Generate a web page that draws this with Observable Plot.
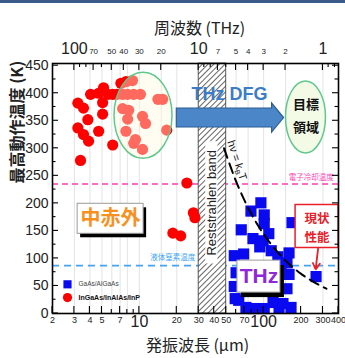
<!DOCTYPE html>
<html><head><meta charset="utf-8">
<script src="https://cdn.jsdelivr.net/npm/d3@7"></script>
<script src="https://cdn.jsdelivr.net/npm/@observablehq/plot@0.6"></script>
<style>
body{margin:0;background:#fff;}
#topbar{position:absolute;left:0;top:0;width:345px;height:3px;background:#3a5a8a;}
#chart{position:absolute;left:0;top:0;}
</style>
</head><body>
<div id="chart"></div><div id="topbar"></div>
<script>
const CJK = "'Noto Sans CJK JP', sans-serif";
const SANS = "'Liberation Sans', Arial, sans-serif";

// ---- data: InGaAs/InAlAs/InP (red circles): wavelength (µm), max temperature (K)
const redLam = [3.2,3.55,3.85,3.2,3.55,3.9,3.36,4.7,4.05,4.7,5.15,5.06,5.06,5.6,6.1,6.6,6.1,
  7.1,7.8,8.8,7.34,8.05,9.0,10.2,7.34,8.2,8.05,10.6,11.2,7.8,9.3,9.0,10.6,14.1,15.4,16.6,
  24.1,27.2,28.0,18.6,21.5];
const redT = [382,373,352,337,325,313,278,331,398,400,410,383,362,398,398,398,306,
  418,421,423,398,398,398,398,372,369,353,358,345,331,316,309,298,389,389,333,
  237,183,174,146,141];
// ---- data: GaAs/AlGaAs (blue squares)
const blueLam = [95,79,101,101,66,169,110,82,99,93,69,58,115,160,130,154,138,60,160,58,154,
  63,72,83,101,133,166,119,143,264,59,79,104];
const blueT = [201,186,179,163,152,165,145,136,132,121,108,105,114,110,103,92,89,74,71,49,45,
  24,11,9,9,11,11,20,18,67,27,78,69];
// ---- hν = kBT line
const kTLam = [48,60,80,100,130,160,200,250,320];
const kTT = [300,240,180,144,111,90,72,58,45];
// ---- reference temperatures
const coolingT = [235];   // 電子冷却温度
const nitrogenT = [87];   // 液体窒素温度
const reststrahlenBand = [[30, 50]];
// ---- axes
const yTickValues = [0,50,100,150,200,250,300,350,400,450];
const yMinorTicks = d3.range(0, 451, 25);
const bottomSmallValues = [2,3,4,5,7,20,30,40,50,70,200,300,400];
const bottomSmallText = ["2","3","4","5","7","20","30","40","50","70","200","300","400"];
const bottomBigValues = [10,100];
const bottomBigText = ["10","100"];
const bottomMinor = [2,3,4,5,6,7,8,9,10,20,30,40,50,60,70,80,90,100,200,300,400];
const topSmallFreq = [70,50,40,30,20,7,5,4,3,2];
const topSmallText = ["70","50","40","30","20","7","5","4","3","2"];
const topBigFreq = [100,10,1];
const topBigText = ["100","10","1"];
const topMinorFreq = [100,90,80,70,60,50,40,30,20,10,9,8,7,6,5,4,3,2,1,0.9,0.8];
const gridLam = [3,4,5,6,7,8,10,15,20,60,75,100,150,300];
const C_UM_THZ = 299.8;

// annotation helper: custom render using Plot's own scales
const ann = (fn) => (index, scales, values, dim) => {
  const g = d3.create("svg:g");
  fn(g, scales.x, scales.y, dim);
  return g.node();
};

const focusEllipse = {lam: 10.8, T: 359, rx: 29, ry: 43};
const targetEllipse = {lam: 219, T: 356, rx: 20, ry: 36};
const dfgArrow = {from: 20, to: 146, T: 355};
const boxes = [
  {lam: 5.87, T: 172, w: 66, h: 30, sx: 3, sy: 4, stroke: "#9a9a9a", sw: 1},
  {lam: 91.6, T: 67, w: 43, h: 32, sx: 4, sy: 5, stroke: "#9a9a9a", sw: 1},
  {lam: 269, T: 158, w: 43, h: 43, sx: 0, sy: 0, stroke: "#e8202a", sw: 1.5}
];

const chart = Plot.plot({
  width: 345, height: 358,
  marginTop: 63, marginBottom: 45, marginLeft: 52, marginRight: 7,
  x: {type: "log", domain: [2, 400], axis: null},
  y: {domain: [0, 454], axis: null},
  style: {fontFamily: SANS, background: "white", overflow: "visible"},
  marks: [
    Plot.ruleX(gridLam, {stroke: "#dcdcdc", strokeWidth: 0.8}),
    Plot.ruleY(coolingT, {stroke: "#ff3fb4", strokeWidth: 1.5, strokeDasharray: "6,4"}),
    Plot.ruleY(nitrogenT, {stroke: "#42a5f5", strokeWidth: 1.6, strokeDasharray: "7,5"}),
    Plot.rect(reststrahlenBand, {x1: d => d[0], x2: d => d[1], fill: "url(#hatch)", stroke: "#333", strokeWidth: 0.8}),
    Plot.rect([{a: 34.2, b: 42.9, c: 90, d: 312}], {x1: "a", x2: "b", y1: "c", y2: "d", fill: "white"}),
    Plot.text(["Reststrahlen band"], {x: 38.3, y: 201, rotate: -90, fontSize: 13, fill: "#222", fontFamily: SANS}),
    Plot.text(["電子冷却温度"], {x: 241, y: 247, fontSize: 7.5, fill: "#ff3fb4", fontFamily: CJK}),
    Plot.text(["液体窒素温度"], {x: 18.6, y: 101, fontSize: 7.5, fill: "#42a5f5", fontFamily: CJK}),
    Plot.dot(blueLam, {x: d => d, y: (d, i) => blueT[i], symbol: "square", r: 6.3, fill: "#0a0af0"}),
    Plot.dot(redLam, {x: d => d, y: (d, i) => redT[i], r: 5.6, fill: "#ff0000"}),
    Plot.line(kTLam, {x: d => d, y: (d, i) => kTT[i], stroke: "black", strokeWidth: 2, strokeDasharray: "10,6", curve: "monotone-x"}),
    ann((g, x, y) => {
      const e = focusEllipse;
      g.append("ellipse").attr("cx", x(e.lam)).attr("cy", y(e.T)).attr("rx", e.rx).attr("ry", e.ry)
        .attr("fill", "#fffbe0").attr("fill-opacity", 0.42).attr("stroke", "#5ec98b").attr("stroke-width", 1.5);
    }),
    ann((g, x, y) => {
      const a = dfgArrow, x0 = x(a.from), x2 = x(a.to), x1 = x2 - 12, yc = y(a.T);
      g.append("path").attr("d", `M${x0},${yc-9.5}H${x1}V${yc-14.5}L${x2},${yc}L${x1},${yc+14.5}V${yc+9.5}H${x0}Z`)
        .attr("fill", "#4a86c8").attr("stroke", "#2f5d96").attr("stroke-width", 1.2);
      const t = targetEllipse;
      g.append("ellipse").attr("cx", x(t.lam)).attr("cy", y(t.T)).attr("rx", t.rx).attr("ry", t.ry)
        .attr("fill", "#f3fae6").attr("stroke", "#5ec98b").attr("stroke-width", 1.5);
      for (const b of boxes) {
        const cx = x(b.lam), cy = y(b.T);
        if (b.sx || b.sy) g.append("rect").attr("x", cx - b.w/2 + b.sx).attr("y", cy - b.h/2 + b.sy)
          .attr("width", b.w).attr("height", b.h).attr("fill", "#000");
        g.append("rect").attr("x", cx - b.w/2).attr("y", cy - b.h/2).attr("width", b.w).attr("height", b.h)
          .attr("fill", "#fff").attr("stroke", b.stroke).attr("stroke-width", b.sw);
      }
    }),
    Plot.arrow([{a: 274, b: 118, c: 262, d: 80}], {x1: "a", y1: "b", x2: "c", y2: "d", stroke: "#e8202a", strokeWidth: 1.8, headLength: 7}),
    Plot.text(["THz DFG"], {x: 53, y: 398, fontSize: 18, fontWeight: "bold", fill: "#3b7cc6", fontFamily: "'Liberation Sans Narrow', 'Liberation Sans', Arial, sans-serif"}),
    Plot.text(["目標"], {x: 219, y: 379, fontSize: 13, fontWeight: "bold", fill: "#111", fontFamily: CJK}),
    Plot.text(["領域"], {x: 219, y: 338, fontSize: 13, fontWeight: "bold", fill: "#111", fontFamily: CJK}),
    Plot.text(["中赤外"], {x: 5.87, y: 172, fontSize: 20, fontWeight: "bold", fill: "#f7901e", fontFamily: CJK}),
    Plot.text(["THz"], {x: 91.6, y: 67, fontSize: 21, fontWeight: "bold", fill: "#9028d8", fontFamily: SANS}),
    Plot.text(["現状"], {x: 269, y: 172, fontSize: 12.5, fontWeight: "bold", fill: "#e8202a", fontFamily: CJK}),
    Plot.text(["性能"], {x: 269, y: 138, fontSize: 12.5, fontWeight: "bold", fill: "#e8202a", fontFamily: CJK}),
    ann((g, x, y) => {
      const t = g.append("text").attr("transform", `translate(${x(61)},${y(277)}) rotate(72)`)
        .attr("text-anchor", "middle").attr("dominant-baseline", "middle")
        .attr("font-family", SANS).attr("font-size", 11).attr("fill", "#111");
      t.append("tspan").text("hν = k");
      t.append("tspan").attr("font-size", 7).attr("dy", 3).text("B");
      t.append("tspan").attr("dy", -3).text("T");
    }),
    // legend
    Plot.dot([0], {x: 2.64, y: 53, symbol: "square", r: 4.6, fill: "#0a0af0"}),
    Plot.dot([0], {x: 2.64, y: 29, r: 4.6, fill: "#ff0000"}),
    Plot.text(["GaAs/AlGaAs"], {x: 3.24, y: 53, textAnchor: "start", fontSize: 6.5, fill: "#444"}),
    Plot.text(["InGaAs/InAlAs/InP"], {x: 3.24, y: 29, textAnchor: "start", fontSize: 7, fontWeight: "bold", fill: "#111"}),
    // frame and ticks
    Plot.frame({stroke: "#000", strokeWidth: 1.6}),
    ann((g, x, y, dim) => {
      const L = dim.marginLeft, R = dim.width - dim.marginRight, T = dim.marginTop, B = dim.height - dim.marginBottom;
      g.attr("stroke", "#000").attr("stroke-width", 1.1);
      const line = (a, b, c, d) => g.append("line").attr("x1", a).attr("y1", b).attr("x2", c).attr("y2", d);
      for (const v of yMinorTicks) { const yy = y(v), len = v % 50 === 0 ? 6 : 3.5; line(L, yy, L + len, yy); line(R, yy, R - len, yy); }
      for (const v of bottomMinor) { const xx = x(v), len = (bottomSmallValues.includes(v) || bottomBigValues.includes(v)) ? 7 : 4; line(xx, B, xx, B - len); }
      for (const f of topMinorFreq) { const xx = x(C_UM_THZ / f), len = (topSmallFreq.includes(f) || topBigFreq.includes(f)) ? 7 : 4; line(xx, T, xx, T + len); }
    }),
    Plot.text(yTickValues, {y: d => d, text: d => String(d), frameAnchor: "left", dx: -4, textAnchor: "end", fontSize: 14, fill: "#222"}),
    Plot.text(bottomSmallValues, {x: d => d, text: (d, i) => bottomSmallText[i], frameAnchor: "bottom", dy: 9, fontSize: 9, fill: "#222"}),
    Plot.text(bottomBigValues, {x: d => d, text: (d, i) => bottomBigText[i], frameAnchor: "bottom", dy: 13, fontSize: 16, fill: "#222"}),
    Plot.text(topSmallFreq, {x: d => C_UM_THZ / d, text: (d, i) => topSmallText[i], frameAnchor: "top", dy: -15, fontSize: 8, fill: "#222"}),
    Plot.text(topBigFreq, {x: d => C_UM_THZ / d, text: (d, i) => topBigText[i], frameAnchor: "top", dy: -21, fontSize: 16, fill: "#222"}),
    Plot.text(["周波数 (THz)"], {frameAnchor: "top", dx: 4, dy: -41, fontSize: 16, fill: "#222", fontFamily: CJK}),
    Plot.text(["発振波長 (µm)"], {frameAnchor: "bottom", dx: 2, dy: 37, fontSize: 16, fill: "#222", fontFamily: CJK}),
    Plot.text(["最高動作温度 (K)"], {frameAnchor: "left", dx: -35, dy: -5, rotate: -90, fontSize: 16, fontWeight: "bold", fill: "#222", fontFamily: CJK})
  ]
});

const svg = d3.select(chart);
const defs = svg.insert("defs", ":first-child");
const pat = defs.append("pattern").attr("id", "hatch").attr("patternUnits", "userSpaceOnUse")
  .attr("width", 4).attr("height", 4).attr("patternTransform", "rotate(45)");
pat.append("rect").attr("width", 4).attr("height", 4).attr("fill", "#fff");
pat.append("line").attr("x1", 0).attr("y1", 0).attr("x2", 0).attr("y2", 4).attr("stroke", "#333").attr("stroke-width", 1.5);
document.getElementById("chart").appendChild(chart);
</script>
</body></html>
